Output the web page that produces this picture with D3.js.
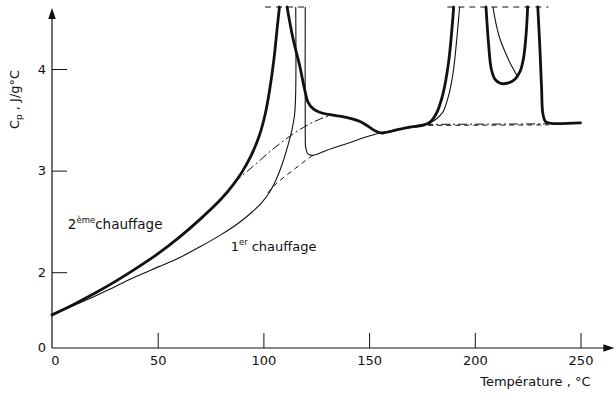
<!DOCTYPE html>
<html><head><meta charset="utf-8">
<script src="https://cdn.jsdelivr.net/npm/d3@7"></script>
<style>
html,body{margin:0;padding:0;background:#fff;}
svg{display:block;}
text{font-family:"DejaVu Sans",sans-serif;fill:#111;}
</style></head>
<body>
<svg id="chart" width="616" height="400"></svg>
<script>
// ---- data (temperature °C, Cp J/g°C) ----
const xTicks = [0, 50, 100, 150, 200, 250];
const yTicks = [2, 3, 4];
const yOriginLabel = "0";
const xLabel = "Température , °C";
// 2ème chauffage (thick)
const second1 = [[0,1.58],[10,1.68],[20,1.79],[30,1.91],[40,2.04],[50,2.18],[60,2.34],[70,2.52],[80,2.72],[86,2.87],[90,2.99],[94,3.14],[98,3.34],[101,3.57],[103,3.80],[105,4.10],[106.5,4.40],[107.6,4.61]];
const second2 = [[111.2,4.61],[114,4.30],[117.3,4.02],[119.5,3.80],[121.2,3.67],[123.5,3.61],[126,3.58],[131.5,3.55],[138,3.53],[142,3.51],[146,3.48],[150,3.43],[153,3.39],[156,3.37],[163,3.40],[170,3.43],[176,3.45],[179,3.48],[182,3.57],[185,3.76],[187.5,4.05],[189,4.35],[190,4.61]];
const second3 = [[205.3,4.61],[206.5,4.25],[207.8,4.00],[209.5,3.90],[212,3.86],[215.5,3.86],[219,3.90],[221.5,3.98],[223,4.10],[224.3,4.35],[225,4.61]];
const second4 = [[229.8,4.61],[230.8,4.20],[231.6,3.80],[232.2,3.56],[233.5,3.48],[236,3.465],[250,3.47]];
// 1er chauffage (thin)
const first1 = [[0,1.58],[10,1.67],[20,1.76],[30,1.86],[40,1.96],[50,2.05],[60,2.14],[70,2.25],[80,2.37],[88,2.48],[94,2.58],[99,2.68],[103,2.79],[106,2.91],[109,3.07],[111.5,3.24],[113.5,3.40],[114.8,3.56],[115.3,3.80],[115.3,4.61]];
const first2 = [[119.8,4.61],[119.8,3.40],[120.0,3.23],[121.0,3.165],[123.5,3.15],[130,3.20],[140,3.27],[150,3.34],[156,3.375],[165,3.41],[175,3.44],[179,3.47],[182.5,3.52],[185,3.58],[187.5,3.73],[189.7,3.96],[191.5,4.30],[192.8,4.61]];
const first3 = [[208.6,4.61],[210,4.45],[212,4.29],[214.5,4.16],[216.7,4.06],[218.5,3.99],[220,3.93]];
// baselines
const secondBase1 = [[86,2.88],[95,3.04],[105,3.22],[114,3.36],[121,3.45],[126,3.50],[131.5,3.545]];
const firstBase1 = [[102,2.78],[105.5,2.86],[110,2.94],[115,3.02],[120,3.10],[123.5,3.15]];
const secondBase2 = [[176,3.455],[235,3.46]];
const firstBase2 = [[178,3.445],[235,3.45]];
const topMarks = [[[100.8,4.61],[121.8,4.61]], [[187,4.61],[234.8,4.61]]];

// ---- scales ----
const svg = d3.select("#chart");
const x = d3.scaleLinear().domain([0, 250]).range([52, 580.5]);
const y = d3.scaleLinear().domain([1.254, 4]).range([348, 69]);
const xAxisEnd = 266, yAxisEnd = 4.61;

const line = d3.line().x(d => x(d[0])).y(d => y(d[1])).curve(d3.curveCatmullRom.alpha(0.5));
const lineLin = d3.line().x(d => x(d[0])).y(d => y(d[1]));

// ---- axes ----
const gx = svg.append("g").attr("transform", `translate(0,${y(1.254)})`)
  .call(d3.axisBottom(x).tickValues(xTicks).tickSizeInner(-15).tickSizeOuter(0).tickPadding(8));
gx.select(".domain").remove();
gx.selectAll(".tick line").attr("stroke", "#111").attr("stroke-width", 1);
gx.selectAll(".tick").filter(d => d === 0).select("line").remove();
gx.selectAll(".tick text").attr("font-size", 13).attr("font-family", "DejaVu Sans").attr("fill", "#111");
gx.selectAll(".tick").filter(d => d === 0).select("text").attr("x", 3);

const gy = svg.append("g").attr("transform", `translate(${x(0)},0)`)
  .call(d3.axisLeft(y).tickValues(yTicks).tickSizeInner(-15).tickSizeOuter(0).tickPadding(6).tickFormat(d3.format("d")));
gy.select(".domain").remove();
gy.selectAll(".tick line").attr("stroke", "#111").attr("stroke-width", 1);
gy.selectAll(".tick text").attr("font-size", 13).attr("font-family", "DejaVu Sans").attr("fill", "#111");

// origin label on broken y axis
svg.append("text").attr("x", x(0) - 6).attr("y", y(1.254)).attr("dy", "0.32em")
  .attr("text-anchor", "end").attr("font-size", 13).text(yOriginLabel);

// axis lines with arrows
svg.append("line").attr("x1", x(0)).attr("x2", x(xAxisEnd) - 8).attr("y1", y(1.254)).attr("y2", y(1.254))
  .attr("stroke", "#111").attr("stroke-width", 1.2);
const xe = x(xAxisEnd), ye = y(1.254);
svg.append("path").attr("d", `M${xe},${ye} L${xe-11},${ye-3.8} L${xe-11},${ye+3.8} Z`).attr("fill", "#111");
svg.append("line").attr("x1", x(0)).attr("x2", x(0)).attr("y1", y(1.254)).attr("y2", y(yAxisEnd) + 8)
  .attr("stroke", "#111").attr("stroke-width", 1.2);
const yx = x(0), yy = y(yAxisEnd) + 1;
svg.append("path").attr("d", `M${yx},${yy} L${yx-3.8},${yy+11} L${yx+3.8},${yy+11} Z`).attr("fill", "#111");

// ---- curves ----
[second1, second2, second3, second4].forEach(s =>
  svg.append("path").datum(s).attr("d", line).attr("fill", "none").attr("stroke", "#111")
    .attr("stroke-width", 2.8).attr("stroke-linejoin", "round").attr("stroke-linecap", "round"));
[first1, first2, first3].forEach(s =>
  svg.append("path").datum(s).attr("d", line).attr("fill", "none").attr("stroke", "#111")
    .attr("stroke-width", 1.1));
[secondBase1, secondBase2].forEach(s =>
  svg.append("path").datum(s).attr("d", line).attr("fill", "none").attr("stroke", "#111")
    .attr("stroke-width", 1).attr("stroke-dasharray", "9,3,2,3"));
[firstBase1, firstBase2].forEach(s =>
  svg.append("path").datum(s).attr("d", line).attr("fill", "none").attr("stroke", "#111")
    .attr("stroke-width", 1).attr("stroke-dasharray", "5,4"));
topMarks.forEach(s =>
  svg.append("path").datum(s).attr("d", lineLin).attr("fill", "none").attr("stroke", "#111")
    .attr("stroke-width", 1).attr("stroke-dasharray", "6,5"));

// ---- labels ----
const yl = svg.append("text").attr("transform", `translate(19,${y(3.7)}) rotate(-90)`)
  .attr("text-anchor", "middle").attr("font-size", 13);
yl.append("tspan").text("C");
yl.append("tspan").attr("font-size", 9).attr("dy", 3).text("p");
yl.append("tspan").attr("dy", -3).text(" , J/g°C");

svg.append("text").attr("x", x(250) + 10).attr("y", 386).attr("text-anchor", "end")
  .attr("font-size", 13).text(xLabel);

const l2 = svg.append("text").attr("x", x(7.5)).attr("y", 229).attr("font-size", 13.5);
l2.append("tspan").text("2");
l2.append("tspan").attr("font-size", 8.5).attr("dy", -6).text("ème");
l2.append("tspan").attr("dy", 6).text("chauffage");

const l1 = svg.append("text").attr("x", x(84.5)).attr("y", 251).attr("font-size", 13);
l1.append("tspan").text("1");
l1.append("tspan").attr("font-size", 8.5).attr("dy", -6).text("er");
l1.append("tspan").attr("dy", 6).attr("dx", 4).text("chauffage");
</script>
</body></html>
